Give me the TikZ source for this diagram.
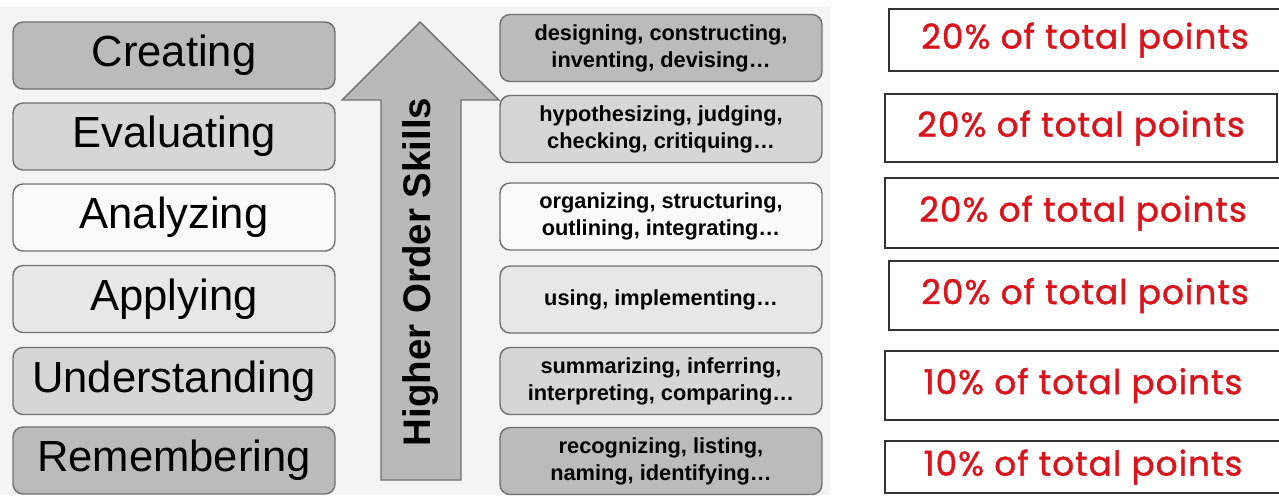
\documentclass[tikz,border=0pt]{standalone}
\usepackage{fontspec}
\setmainfont{Liberation Sans}
\newfontfamily\pctfont{Poppins}[FakeBold=1.2, LetterSpace=3]
\usetikzlibrary{positioning}

\definecolor{panel}{HTML}{F4F4F4}
\definecolor{edge}{HTML}{707070}
\definecolor{darkfill}{HTML}{BBBBBB}
\definecolor{midfill}{HTML}{D6D6D6}
\definecolor{lightfill}{HTML}{E7E7E7}
\definecolor{palefill}{HTML}{FBFBFB}
\definecolor{arrowfill}{HTML}{B9B9B9}
\definecolor{pctred}{RGB}{218,20,28}

\begin{document}
\begin{tikzpicture}[x=0.02cm,y=-0.02cm,
    level/.style={draw=edge, line width=0.8pt, rounded corners=0.2cm,
        minimum width=6.44cm, minimum height=1.34cm, inner sep=0pt},
    skill/.style={level, font=\fontsize{24.8}{29}\selectfont},
    verbs/.style={level, align=center,
        font=\bfseries\fontsize{12.4}{15.3}\selectfont},
    share/.style={draw=black!80, line width=0.8pt, inner sep=0pt,
        text=pctred, font=\pctfont\fontsize{19.5}{22}\selectfont}
]
\useasboundingbox (0,0) rectangle (1279,495);

%%% HELP LINES - uncomment to design/extend
% \draw[step=50,gray,very thin] (0,0) grid (1279,495);

%% Grey panel behind the taxonomy
\fill[panel] (0,7) rectangle (830,495);

% LEVELS
\node[skill, fill=darkfill]  (creating)      at (174,55.5)  {Creating};
\node[skill, fill=midfill]   (evaluating)    at (174,136.5) {Evaluating};
\node[skill, fill=palefill]  (analyzing)     at (174,217.5) {Analyzing};
\node[skill, fill=lightfill] (applying)      at (174,299)   {Applying};
\node[skill, fill=midfill]   (understanding) at (174,381)   {Understanding};
\node[skill, fill=darkfill]  (remembering)   at (174,460.5) {Remembering};

% HIGHER ORDER ARROW
\draw[draw=edge, line width=0.8pt, fill=arrowfill]
    (381,480) -- (381,100) -- (342,100) -- (420,22)
    -- (499,100) -- (461,100) -- (461,480) -- cycle;
\node[rotate=90, font=\bfseries\fontsize{21.9}{26}\selectfont]
    (higher) at (421,272) {Higher Order Skills};

% VERBS
\node[verbs, fill=darkfill]  (designing)     at (661,48)    {designing, constructing,\\inventing, devising\dots};
\node[verbs, fill=midfill]   (hypothesizing) at (661,129)   {hypothesizing, judging,\\checking, critiquing\dots};
\node[verbs, fill=palefill]  (organizing)    at (661,216.5) {organizing, structuring,\\outlining, integrating\dots};
\node[verbs, fill=lightfill] (using)         at (661,299.5) {using, implementing\dots};
\node[verbs, fill=midfill]   (summarizing)   at (661,381)   {summarizing, inferring,\\interpreting, comparing\dots};
\node[verbs, fill=darkfill]  (recognizing)   at (661,461)   {recognizing, listing,\\naming, identifying\dots};

% POINTS
\node[share, minimum width=7.84cm, minimum height=1.24cm] (ptcreating)      at (1085,40)    {20\% of total points};
\node[share, minimum width=7.84cm, minimum height=1.36cm] (ptevaluating)    at (1081,128)   {20\% of total points};
\node[share, minimum width=7.92cm, minimum height=1.40cm] (ptanalyzing)     at (1083,213)   {20\% of total points};
\node[share, minimum width=7.84cm, minimum height=1.38cm] (ptapplying)      at (1085,295.5) {20\% of total points};
\node[share, minimum width=7.92cm, minimum height=1.38cm] (ptunderstanding) at (1083,385.5) {10\% of total points};
\node[share, minimum width=7.92cm, minimum height=1.04cm] (ptremembering)   at (1083,467)   {10\% of total points};
\end{tikzpicture}
\end{document}
